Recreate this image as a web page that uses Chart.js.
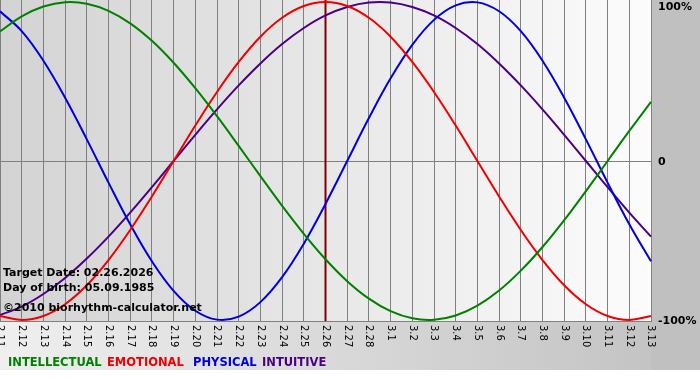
<!DOCTYPE html>
<html>
<head>
<meta charset="utf-8">
<script src="https://cdn.jsdelivr.net/npm/chart.js@4.4.1/dist/chart.umd.min.js"></script>
<style>
  html, body { margin: 0; padding: 0; background: #ffffff; }
  #wrap { width: 700px; height: 380px; }
</style>
</head>
<body>
<div id="wrap"><canvas id="bioChart" width="700" height="380"></canvas></div>
<script>
  // days shown on the x axis (month.day)
  const days = ['2.11', '2.12', '2.13', '2.14', '2.15', '2.16', '2.17', '2.18', '2.19', '2.20',
    '2.21', '2.22', '2.23', '2.24', '2.25', '2.26', '2.27', '2.28', '3.1', '3.2', '3.3', '3.4',
    '3.5', '3.6', '3.7', '3.8', '3.9', '3.10', '3.11', '3.12', '3.13'];

  const intellectual = [0.815, 0.910, 0.972, 0.999, 0.990, 0.945, 0.866, 0.756, 0.618, 0.458,
    0.282, 0.095, -0.095, -0.282, -0.458, -0.618, -0.756, -0.866, -0.945, -0.990, -0.999,
    -0.972, -0.910, -0.815, -0.690, -0.541, -0.372, -0.189, 0, 0.189, 0.372];
  const emotional = [-0.975, -1, -0.975, -0.901, -0.782, -0.623, -0.434, -0.223, 0, 0.223,
    0.434, 0.623, 0.782, 0.901, 0.975, 1, 0.975, 0.901, 0.782, 0.623, 0.434, 0.223, 0,
    -0.223, -0.434, -0.623, -0.782, -0.901, -0.975, -1, -0.975];
  const physical = [0.942, 0.817, 0.631, 0.398, 0.136, -0.136, -0.398, -0.631, -0.817, -0.942,
    -0.998, -0.979, -0.888, -0.731, -0.520, -0.270, 0, 0.270, 0.520, 0.731, 0.888, 0.979,
    0.998, 0.942, 0.817, 0.631, 0.398, 0.136, -0.136, -0.398, -0.631];
  const intuitive = [-0.969, -0.916, -0.837, -0.736, -0.614, -0.476, -0.325, -0.165, 0, 0.165,
    0.325, 0.476, 0.614, 0.736, 0.837, 0.916, 0.969, 0.997, 0.997, 0.969, 0.916, 0.837,
    0.736, 0.614, 0.476, 0.325, 0.165, 0, -0.165, -0.325, -0.476];

  const markerDay = '2.26';
  const levelValues = [1, 0, -1];
  const levelLabels = ['100%', '0', '-100%'];
  const infoLines = ['Target Date: 02.26.2026', 'Day of birth: 05.09.1985', '\u00a92010 biorhythm-calculator.net'];

  const seriesNames = ['INTELLECTUAL', 'EMOTIONAL', 'PHYSICAL', 'INTUITIVE'];
  const seriesColors = ['#008000', '#ee0000', '#0000dd', '#4b0082'];
  const legendX = [8, 107, 193, 262];

  const bioDecor = {
    id: 'bioDecor',
    beforeDraw(chart) {
      const { ctx, chartArea: a, width, height } = chart;
      ctx.save();
      ctx.fillStyle = '#ffffff';
      ctx.fillRect(0, 0, width, height);

      const band = ctx.createLinearGradient(0, 0, a.right, 0);
      band.addColorStop(0, '#efefef');
      band.addColorStop(1, '#c4c4c4');
      ctx.fillStyle = band;
      ctx.fillRect(0, 0, a.right, 370);
      ctx.fillStyle = '#c0c0c0';
      ctx.fillRect(a.right, 0, width - a.right, 370);

      const plot = ctx.createLinearGradient(a.left, 0, a.right, 0);
      plot.addColorStop(0, '#d3d3d3');
      plot.addColorStop(1, '#fcfcfc');
      ctx.fillStyle = plot;
      ctx.fillRect(a.left, a.top, a.right - a.left, a.bottom - a.top);
      ctx.restore();
    },
    beforeDatasetsDraw(chart) {
      const { ctx, chartArea: a, scales } = chart;
      const x = scales.x.getPixelForValue(days.indexOf(markerDay));
      ctx.save();
      ctx.strokeStyle = '#800000';
      ctx.lineWidth = 2;
      ctx.beginPath();
      ctx.moveTo(x, a.top);
      ctx.lineTo(x, a.bottom);
      ctx.stroke();

      ctx.strokeStyle = '#808080';
      ctx.lineWidth = 1;
      ctx.beginPath();
      ctx.moveTo(a.left, a.bottom - 0.5);
      ctx.lineTo(a.right, a.bottom - 0.5);
      ctx.stroke();
      ctx.restore();
    },
    afterDraw(chart) {
      const { ctx, chartArea: a, scales } = chart;
      ctx.save();

      // rotated day labels, reading top to bottom
      ctx.fillStyle = '#000000';
      ctx.font = '10px "DejaVu Sans", sans-serif';
      ctx.textAlign = 'left';
      ctx.textBaseline = 'middle';
      days.forEach(function (day, i) {
        const x = scales.x.getPixelForValue(i);
        ctx.save();
        ctx.translate(x, a.bottom + 3);
        ctx.rotate(Math.PI / 2);
        ctx.fillText(day, 0, 0);
        ctx.restore();
      });

      // level labels on the right
      ctx.font = 'bold 11px "DejaVu Sans", sans-serif';
      levelValues.forEach(function (v, i) {
        const y = Math.min(Math.max(scales.y.getPixelForValue(v) + 1, 7), 322);
        ctx.fillText(levelLabels[i], a.right + 7, y);
      });

      // info text over the plot
      ctx.textBaseline = 'alphabetic';
      const infoY = [276, 291, 311];
      infoLines.forEach(function (line, i) {
        ctx.fillText(line, 3, infoY[i]);
      });

      // legend
      ctx.font = 'bold 11.5px "DejaVu Sans", sans-serif';
      seriesNames.forEach(function (name, i) {
        ctx.fillStyle = seriesColors[i];
        ctx.fillText(name, legendX[i], 366);
      });
      ctx.restore();
    }
  };

  const seriesData = [intellectual, emotional, physical, intuitive];

  new Chart(document.getElementById('bioChart'), {
    type: 'line',
    plugins: [bioDecor],
    data: {
      labels: days,
      datasets: seriesNames.map(function (name, i) {
        return {
          label: name,
          data: seriesData[i],
          borderColor: seriesColors[i],
          borderWidth: 2,
          tension: 0.4,
          pointRadius: 0,
          fill: false
        };
      })
    },
    options: {
      responsive: false,
      animation: false,
      devicePixelRatio: 1,
      layout: { padding: { left: 0, right: 49, top: 0, bottom: 58 } },
      plugins: {
        legend: { display: false },
        tooltip: { enabled: false }
      },
      scales: {
        x: {
          offset: false,
          grid: { color: '#808080', lineWidth: 1, drawTicks: false },
          ticks: { display: false },
          border: { display: false }
        },
        y: {
          min: -1.013,
          max: 1.013,
          afterBuildTicks(scale) {
            scale.ticks = [{ value: 0 }];
          },
          grid: { color: '#808080', lineWidth: 1, drawTicks: false },
          ticks: { display: false },
          border: { display: false }
        }
      }
    }
  });
</script>
</body>
</html>
